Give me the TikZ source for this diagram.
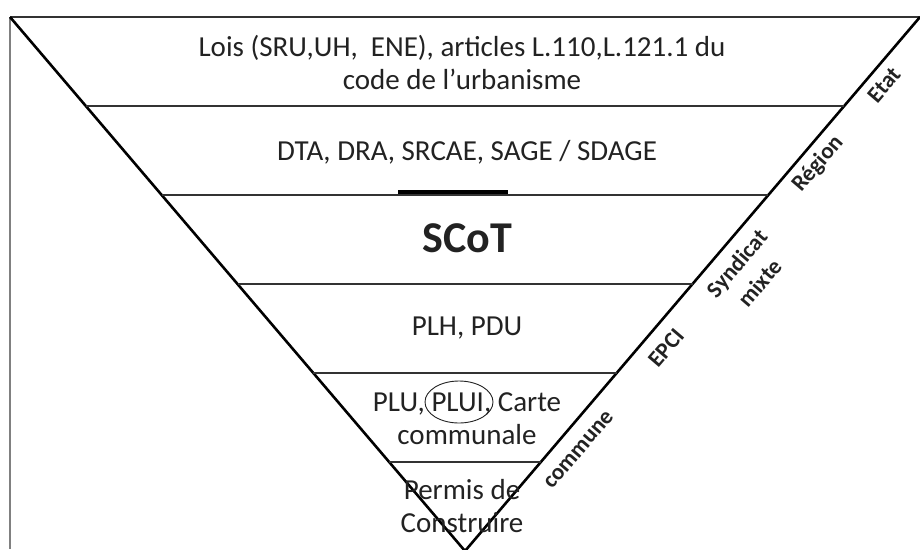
\documentclass[tikz,border=0pt]{standalone}
\usepackage{fontspec}
\setmainfont{Carlito}
\usetikzlibrary{calc, shapes.geometric}
\definecolor{ink}{HTML}{222222}
\tikzstyle{edge} = [line width=2.6pt, draw=black, line join=miter]
\tikzstyle{level} = [line width=2.3pt, draw=black!80]
\tikzstyle{frame} = [line width=1.6pt, draw=black!50]
\tikzstyle{txt} = [align=center, text=ink, font=\fontsize{29}{33}\selectfont]
\tikzstyle{actor} = [align=center, text=ink, font=\bfseries\fontsize{23}{30}\selectfont, rotate=49.5]

\begin{document}
\begin{tikzpicture}[x=1pt, y=-1pt]
	\useasboundingbox (0,0) rectangle (920,549);
	\coordinate (tl) at (10,17);
	\coordinate (tr) at (920,17);
	\coordinate (apex) at (465,551);
\draw [frame] (tl) -- ++(0,532);
\draw [level] (tl) -- (tr);
\draw [edge] (tr) -- (apex) -- (tl);
\foreach \k in {1,...,5}
	\draw [level] ($(tl)!\k/6!(apex)$) -- ($(tr)!\k/6!(apex)$);
\draw [line width=4pt] (398,192) -- (508,192);
	\node (lois) [txt] at (462,62) {Lois (SRU,UH,~ ENE), articles L.110,L.121.1 du\\code de l’urbanisme};
	\node (dta) [txt] at (467,152) {DTA, DRA, SRCAE, SAGE / SDAGE};
	\node (scot) [txt, font=\bfseries\fontsize{44}{46}\selectfont] at (467,238) {SCoT};
	\node (plh) [txt] at (467,328) {PLH, PDU};
	\node (plu) [txt] at (467,419) {PLU, PLUI, Carte\\communale};
	\node (permis) [txt] at (462,506) {Permis de\\Construire};
\draw [line width=0.9pt, draw=ink] (459,402) ellipse (34pt and 21pt);
	\node (etat) [actor] at (884,85) {Etat};
	\node (region) [actor] at (818,164) {Région};
	\node (syndicat) [actor] at (748,273) {Syndicat\\mixte};
	\node (epci) [actor] at (666,348) {EPCI};
	\node (commune) [actor] at (579,450) {commune};
\end{tikzpicture}
\end{document}
